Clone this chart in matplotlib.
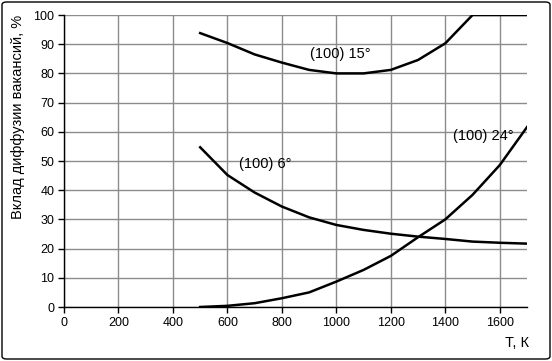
import numpy as np
import matplotlib
matplotlib.use('agg')
import matplotlib.pyplot as plt
from matplotlib.patches import FancyBboxPatch

plt.rcParams['font.family'] = ['Liberation Sans', 'DejaVu Sans']

T = [500, 600, 700, 800, 900, 1000, 1100, 1200, 1300, 1400, 1500, 1600, 1700]
d15 = [93.8, 90.4, 86.5, 83.7, 81.2, 80.0, 80.0, 81.2, 84.6, 90.3, 100, 100, 100]
d6 = [54.7, 45.2, 39.2, 34.4, 30.7, 28.1, 26.4, 25.1, 24.1, 23.3, 22.4, 22.0, 21.7]
d24 = [0.0, 0.4, 1.3, 3.0, 5.0, 8.7, 12.7, 17.5, 23.9, 30.0, 38.4, 48.6, 61.6]

xticks = np.arange(0, 1700, 200)
yticks = np.arange(0, 101, 10)

fig = plt.figure(figsize=(5.52, 3.61), dpi=100)
ax = fig.add_axes([64/552, 1-307/361, 463/552, 292/361])

for y in (d15, d6, d24):
    ax.plot(T, y, color='black', lw=1.8)

ax.set_xlim(0, 1700)
ax.set_ylim(0, 100)
ax.set_xticks(xticks)
ax.set_yticks(yticks)
ax.grid(True, color='#8c8c8c', lw=1)
ax.set_axisbelow(True)
for s in ('top', 'right'):
    ax.spines[s].set_visible(False)
for s in ('left', 'bottom'):
    ax.spines[s].set_color('black')
    ax.spines[s].set_linewidth(1)
ax.tick_params(direction='out', length=4, width=1, labelsize=9, pad=3)

ax.text(1016, 86.6, '(100) 15°', fontsize=10.5, ha='center', va='center')
ax.text(740, 49.0, '(100) 6°', fontsize=10.5, ha='center', va='center')
ax.text(1540, 58.5, '(100) 24°', fontsize=10.5, ha='center', va='center')

fig.text(18/552, 1-117/361, 'Вклад диффузии вакансий, %', rotation=90,
         fontsize=10.5, ha='center', va='center')
fig.text(517/552, 1-343/361, 'Т, К', fontsize=10.5, ha='center', va='center')

border = FancyBboxPatch((2/552, 2/361), 548/552, 357/361,
                        boxstyle='round,pad=0,rounding_size=0.008',
                        transform=fig.transFigure, fill=False,
                        edgecolor='black', lw=1)
fig.patches.append(border)

plt.savefig('out.png', dpi=100)
